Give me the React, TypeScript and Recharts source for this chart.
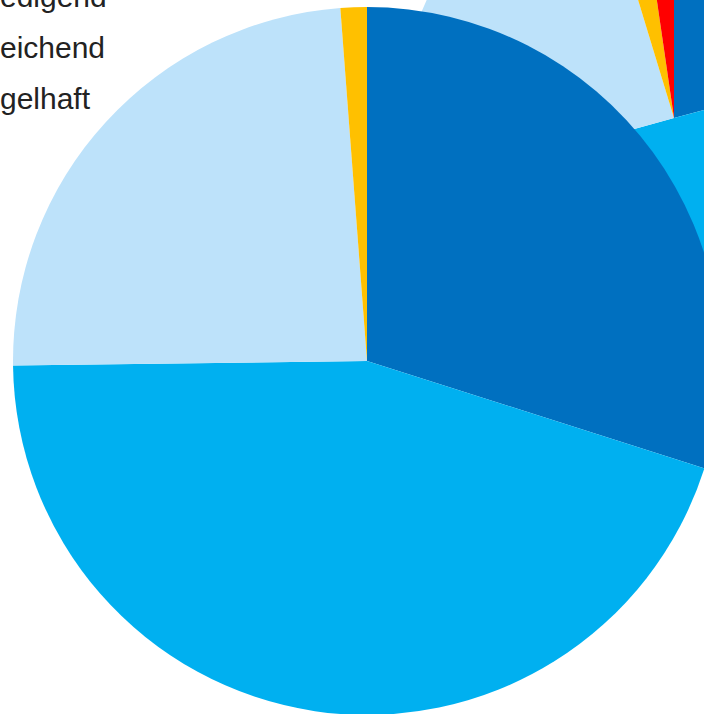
import React from 'react';
import { PieChart, Pie, Cell, Legend } from 'recharts';

const categories = ['sehr gut', 'gut', 'befriedigend', 'ausreichend', 'mangelhaft'];
const colors = ['#0070C0', '#00B0F0', '#BDE2FA', '#FFC000', '#FF0000'];
const mainValues = [29.9, 44.9, 24.0, 1.2, 0];
const secondValues = [20.8, 49.9, 24.6, 2.4, 2.3];

const mainData = categories.map((name, i) => ({ name, value: mainValues[i] }));
const secondData = categories.map((name, i) => ({ name, value: secondValues[i] }));

const OFFSET = 200;

const LegendContent = () => (
  <div style={{ fontFamily: '"Liberation Sans", Arial, sans-serif', fontSize: 30, color: '#222' }}>
    {categories.map((c, i) => (
      <div key={c} style={{ height: 51, lineHeight: '51px', display: 'flex', alignItems: 'center', whiteSpace: 'nowrap' }}>
        <span style={{ display: 'inline-block', width: 18, height: 18, background: colors[i], marginRight: 12 }} />
        <span>{c}</span>
      </div>
    ))}
  </div>
);

export default function App() {
  return (
    <div style={{ position: 'fixed', left: 0, top: 0, width: 704, height: 714, overflow: 'hidden', background: '#fff' }}>
      <div style={{ position: 'absolute', left: -OFFSET, top: -OFFSET }}>
        <PieChart width={1100} height={1100} margin={{ top: 0, right: 0, bottom: 0, left: 0 }}>
          <Pie
            data={secondData}
            dataKey="value"
            nameKey="name"
            cx={674 + OFFSET}
            cy={118 + OFFSET}
            outerRadius={274}
            startAngle={90}
            endAngle={-270}
            stroke="none"
            isAnimationActive={false}
          >
            {secondData.map((d, i) => (
              <Cell key={d.name} fill={colors[i]} />
            ))}
          </Pie>
          <Pie
            data={mainData}
            dataKey="value"
            nameKey="name"
            cx={367 + OFFSET}
            cy={361 + OFFSET}
            outerRadius={354}
            startAngle={90}
            endAngle={-270}
            stroke="none"
            isAnimationActive={false}
          >
            {mainData.map((d, i) => (
              <Cell key={d.name} fill={colors[i]} />
            ))}
          </Pie>
          <Legend
            layout="vertical"
            align="center"
            verticalAlign="middle"
            content={LegendContent}
            wrapperStyle={{ left: 141.6 - 30, top: 69, width: 400 }}
          />
        </PieChart>
      </div>
    </div>
  );
}
